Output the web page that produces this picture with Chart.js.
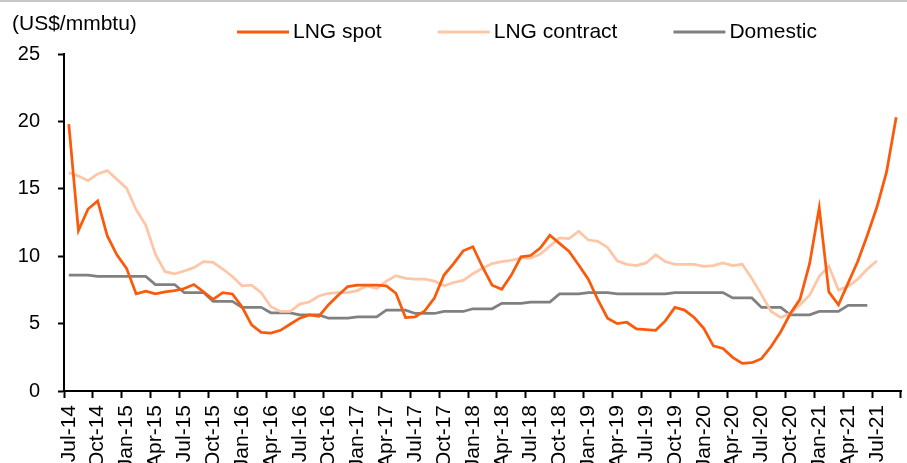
<!DOCTYPE html>
<html><head><meta charset="utf-8">
<script src="https://cdn.jsdelivr.net/npm/chart.js@4"></script>
<style>
html,body{margin:0;padding:0;background:#fff;overflow:hidden}
#wrap{position:relative;width:907px;height:463px}
#topline{position:absolute;left:0;top:0;width:907px;height:2px;background:#c8c8c8}
</style></head><body>
<div id="wrap"><canvas id="c" width="907" height="463"></canvas><div id="topline"></div></div>
<script>
const months = [
 'Jul-14','Aug-14','Sep-14','Oct-14','Nov-14','Dec-14',
 'Jan-15','Feb-15','Mar-15','Apr-15','May-15','Jun-15','Jul-15','Aug-15','Sep-15','Oct-15','Nov-15','Dec-15',
 'Jan-16','Feb-16','Mar-16','Apr-16','May-16','Jun-16','Jul-16','Aug-16','Sep-16','Oct-16','Nov-16','Dec-16',
 'Jan-17','Feb-17','Mar-17','Apr-17','May-17','Jun-17','Jul-17','Aug-17','Sep-17','Oct-17','Nov-17','Dec-17',
 'Jan-18','Feb-18','Mar-18','Apr-18','May-18','Jun-18','Jul-18','Aug-18','Sep-18','Oct-18','Nov-18','Dec-18',
 'Jan-19','Feb-19','Mar-19','Apr-19','May-19','Jun-19','Jul-19','Aug-19','Sep-19','Oct-19','Nov-19','Dec-19',
 'Jan-20','Feb-20','Mar-20','Apr-20','May-20','Jun-20','Jul-20','Aug-20','Sep-20','Oct-20','Nov-20','Dec-20',
 'Jan-21','Feb-21','Mar-21','Apr-21','May-21','Jun-21','Jul-21','Aug-21','Sep-21'
];
const lngSpot = [
 19.8,11.9,13.5,14.1,11.5,10.1,
 9.1,7.2,7.4,7.2,7.35,7.45,7.6,7.9,7.35,6.8,7.3,7.2,
 6.25,4.9,4.35,4.3,4.5,4.95,5.4,5.65,5.55,6.4,7.1,7.75,
 7.85,7.85,7.85,7.8,7.25,5.45,5.5,5.95,6.9,8.6,9.45,10.4,
 10.7,9.2,7.85,7.55,8.6,9.95,10.05,10.6,11.55,10.95,10.35,9.35,
 8.3,6.75,5.4,5.0,5.1,4.6,4.55,4.5,5.2,6.2,6.0,5.45,
 4.65,3.35,3.15,2.5,2.05,2.1,2.4,3.3,4.4,5.75,6.8,9.45,
 13.6,7.35,6.4,8.0,9.6,11.55,13.65,16.25,20.3
];
const lngContract = [
 16.2,15.95,15.6,16.1,16.35,15.7,
 15.05,13.45,12.3,10.15,8.85,8.7,8.9,9.15,9.6,9.55,9.05,8.5,
 7.8,7.85,7.3,6.25,5.9,5.9,6.45,6.6,7.05,7.25,7.3,7.3,
 7.45,7.8,7.6,8.15,8.55,8.35,8.3,8.3,8.15,7.8,8.05,8.2,
 8.7,9.1,9.45,9.6,9.7,9.85,9.85,10.15,10.75,11.35,11.3,11.85,
 11.2,11.1,10.65,9.65,9.4,9.3,9.5,10.1,9.6,9.4,9.4,9.4,
 9.25,9.3,9.5,9.3,9.4,8.35,7.15,5.9,5.45,5.75,6.4,7.1,
 8.5,9.25,7.5,7.75,8.3,9.05,9.65,null,null
];
const domestic = [
 8.6,8.6,8.6,8.5,8.5,8.5,
 8.5,8.5,8.5,7.9,7.9,7.9,7.3,7.3,7.3,6.65,6.65,6.65,
 6.2,6.2,6.2,5.8,5.8,5.8,5.65,5.65,5.65,5.4,5.4,5.4,
 5.5,5.5,5.5,6.0,6.0,6.0,5.75,5.75,5.75,5.9,5.9,5.9,
 6.1,6.1,6.1,6.5,6.5,6.5,6.6,6.6,6.6,7.2,7.2,7.2,
 7.3,7.3,7.3,7.2,7.2,7.2,7.2,7.2,7.2,7.3,7.3,7.3,
 7.3,7.3,7.3,6.9,6.9,6.9,6.2,6.2,6.2,5.65,5.65,5.65,
 5.9,5.9,5.9,6.35,6.35,6.35,null,null,null
];
const seriesNames = ['LNG spot','LNG contract','Domestic'];
const seriesColors = ['#FA5A0A','#FDC6A6','#808080'];
const yTicks = [0,5,10,15,20,25];
const unitLabel = '(US$/mmbtu)';
const FONT = '"Liberation Sans", Arial, sans-serif';

const customText = {
  id: 'customText',
  afterDraw(chart) {
    const ctx = chart.ctx;
    ctx.save();
    ctx.font = '21px ' + FONT;
    ctx.textBaseline = 'middle';
    ctx.textAlign = 'left';
    ctx.fillStyle = '#000';
    ctx.fillText(unitLabel, 12, 24);
    let x = 237; const y = 32;
    chart.data.datasets.forEach(ds => {
      ctx.strokeStyle = ds.borderColor;
      ctx.lineWidth = 3;
      ctx.beginPath(); ctx.moveTo(x, y); ctx.lineTo(x + 52, y); ctx.stroke();
      ctx.fillStyle = '#000';
      ctx.fillText(ds.label, x + 56, y);
      x += 56 + ctx.measureText(ds.label).width + 56;
    });
    ctx.restore();
  }
};

const mk = (i, data) => ({
  label: seriesNames[i], data: data,
  borderColor: seriesColors[i], backgroundColor: seriesColors[i],
  borderWidth: 2.75, pointRadius: 0, pointHoverRadius: 0, tension: 0, spanGaps: false
});

new Chart(document.getElementById('c'), {
  type: 'line',
  data: { labels: months, datasets: [mk(0, lngSpot), mk(1, lngContract), mk(2, domestic)] },
  options: {
    responsive: false, animation: false, devicePixelRatio: 1,
    layout: { padding: { top: 54, right: 6, left: 0, bottom: 0 } },
    plugins: { legend: { display: false }, tooltip: { enabled: false } },
    scales: {
      x: {
        type: 'category', offset: true,
        grid: {
          offset: true, drawOnChartArea: false, drawTicks: true, tickLength: 7, tickWidth: 2,
          tickColor: c => (c.index === undefined || c.index % 3 === 0) ? '#000' : 'rgba(0,0,0,0)'
        },
        border: { display: true, color: '#000', width: 2 },
        ticks: {
          autoSkip: false, maxRotation: 90, minRotation: 90, padding: 7, color: '#000',
          font: { family: FONT, size: 21 },
          callback: (v, i) => (i % 3 === 0 ? months[i] : '')
        },
        afterFit: s => { s.height = 72; s.paddingLeft = 0; s.paddingRight = 0; }
      },
      y: {
        min: 0, max: 25,
        afterBuildTicks: s => { s.ticks = yTicks.map(v => ({ value: v })); },
        grid: { drawOnChartArea: false, drawTicks: true, tickLength: 6, tickWidth: 2, tickColor: '#000' },
        border: { display: true, color: '#000', width: 2 },
        ticks: { padding: 18, color: '#000', font: { family: FONT, size: 20 } },
        afterFit: s => { s.width = 64; s.paddingTop = 0; s.paddingBottom = 0; }
      }
    }
  },
  plugins: [customText]
});
</script>
</body></html>
